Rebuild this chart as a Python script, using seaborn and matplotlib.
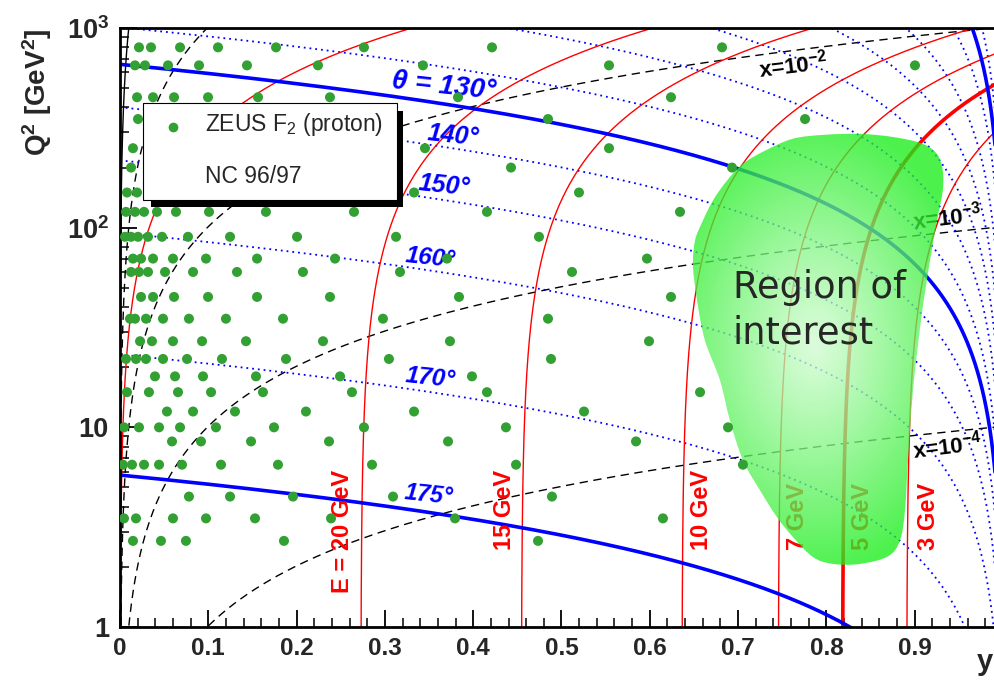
import numpy as np
import pandas as pd
import matplotlib
matplotlib.use("Agg")
import matplotlib.pyplot as plt
from matplotlib.path import Path
from matplotlib.patches import PathPatch, Rectangle
from matplotlib.lines import Line2D
from matplotlib.ticker import LogLocator, MultipleLocator, NullFormatter
import seaborn as sns

# HERA beam energies (GeV)
E_ELECTRON = 27.5
E_PROTON = 920.0
S_CM = 4 * E_ELECTRON * E_PROTON

# ZEUS F2 (proton), NC 96/97: measured y values in each Q^2 bin
y_q2_2p7 = [0.0147, 0.0464, 0.0747, 0.1857, 0.4734]
y_q2_3p5 = [0.0045, 0.0181, 0.0600, 0.0974, 0.1529, 0.2390, 0.3794, 0.6149]
y_q2_4p5 = [0.0781, 0.1246, 0.1959, 0.3092, 0.4892]
y_q2_6p5 = [0.0034, 0.0136, 0.0272, 0.0442, 0.0702, 0.1144, 0.1789, 0.2854, 0.4485, 0.7055]
y_q2_8p5 = [0.0589, 0.0917, 0.1484, 0.2367, 0.3715, 0.5844]
y_q2_10 = [0.0045, 0.0215, 0.0442, 0.0680, 0.1087, 0.1744, 0.2763, 0.4371, 0.6886]
y_q2_12 = [0.0532, 0.0827, 0.1302, 0.2106, 0.3330, 0.5255]
y_q2_15 = [0.0079, 0.0328, 0.0657, 0.1031, 0.1619, 0.2627, 0.4156, 0.6569]
y_q2_18 = [0.0396, 0.0623, 0.0940, 0.1540, 0.2492, 0.3986]
y_q2_22 = [0.0068, 0.0181, 0.0294, 0.0487, 0.0759, 0.1155, 0.1880, 0.3046, 0.4881]
y_q2_27 = [0.0227, 0.0362, 0.0600, 0.0929, 0.1427, 0.2299, 0.3737, 0.5991]
y_q2_35 = [0.0113, 0.0170, 0.0294, 0.0487, 0.0781, 0.1200, 0.1846, 0.2978, 0.4847]
y_q2_45 = [0.0238, 0.0374, 0.0612, 0.0997, 0.1552, 0.2378, 0.3839, 0.6240]
y_q2_60 = [0.0125, 0.0215, 0.0317, 0.0510, 0.0827, 0.1325, 0.2072, 0.3171, 0.5119]
y_q2_70 = [0.0147, 0.0238, 0.0374, 0.0600, 0.0974, 0.1552, 0.2435, 0.3703, 0.5968]
y_q2_90 = [0.0057, 0.0125, 0.0204, 0.0317, 0.0476, 0.0770, 0.1246, 0.2005, 0.3126, 0.4745]
y_q2_120 = [0.0068, 0.0170, 0.0272, 0.0419, 0.0634, 0.1008, 0.1653, 0.2650, 0.4156, 0.6342]
y_q2_150 = [0.0079, 0.0193, 0.3330, 0.5198]
y_q2_200 = [0.0125, 0.4428, 0.6931]
y_q2_250 = [0.0147, 0.3454, 0.5538]
y_q2_350 = [0.0204, 0.4847, 0.7758]
y_q2_450 = [0.0193, 0.0374, 0.0612, 0.0997, 0.1563, 0.2378, 0.3828, 0.6240]
y_q2_650 = [0.0170, 0.0283, 0.0544, 0.0895, 0.1438, 0.2242, 0.3431, 0.5538, 0.9003]
y_q2_800 = [0.0215, 0.0351, 0.0680, 0.1110, 0.1767, 0.2763, 0.4213, 0.6818]

zeus_bins = {
    2.7: y_q2_2p7, 3.5: y_q2_3p5, 4.5: y_q2_4p5, 6.5: y_q2_6p5, 8.5: y_q2_8p5,
    10: y_q2_10, 12: y_q2_12, 15: y_q2_15, 18: y_q2_18, 22: y_q2_22,
    27: y_q2_27, 35: y_q2_35, 45: y_q2_45, 60: y_q2_60, 70: y_q2_70,
    90: y_q2_90, 120: y_q2_120, 150: y_q2_150, 200: y_q2_200, 250: y_q2_250,
    350: y_q2_350, 450: y_q2_450, 650: y_q2_650, 800: y_q2_800,
}

# Kinematic lines: scattered electron energy E' (GeV), polar angle theta (deg), Bjorken x
electron_energies = [27.5, 20, 15, 10, 7, 5, 3]
energy_bold = [5]
energy_labels = ["E = 20 GeV", "15 GeV", "10 GeV", "7 GeV", "5 GeV", "3 GeV"]
theta_dotted = [30, 45, 60, 75, 90, 105, 120, 140, 150, 160, 170]
theta_thick = [36, 130, 175]
theta_labels = ["θ = 130°", "140°", "150°", "160°", "170°", "175°"]
x_lines = [1.0, 1e-1, 1e-2, 1e-3, 1e-4]
x_labels = [r"x=10$^{\mathbf{-2}}$", r"x=10$^{\mathbf{-3}}$", r"x=10$^{\mathbf{-4}}$"]

# Outline of the highlighted region (y, Q^2)
region_y = [0.7055, 0.7305, 0.7622, 0.7984, 0.8381, 0.8743, 0.9060, 0.9230, 0.9309,
            0.9321, 0.9264, 0.9173, 0.9071, 0.8981, 0.8924, 0.8890, 0.8834, 0.8698,
            0.8381, 0.8075, 0.7848, 0.7622, 0.7440, 0.7248, 0.7055, 0.6908, 0.6795,
            0.6625, 0.6535, 0.6489, 0.6512, 0.6591, 0.6716, 0.6874]
region_q2 = [209, 243, 279, 292, 295, 285, 266, 240, 204,
             158, 115, 68.4, 34.3, 15.3, 6.84, 3.85, 2.72, 2.26,
             2.07, 2.07, 2.24, 2.82, 3.55, 4.84, 6.84, 10.8, 17.2,
             27.2, 43.2, 64.6, 86.1, 106, 137, 172]

x_tick_vals = [0, 0.1, 0.2, 0.3, 0.4, 0.5, 0.6, 0.7, 0.8, 0.9]
x_tick_text = ["0", "0.1", "0.2", "0.3", "0.4", "0.5", "0.6", "0.7", "0.8", "0.9"]
y_tick_vals = [1, 10, 100, 1000]
y_tick_text = ["1", "10", r"$\mathbf{10^{2}}$", r"$\mathbf{10^{3}}$"]

sns.set_style("ticks")
plt.rcParams["font.family"] = ["Liberation Sans", "DejaVu Sans"]
plt.rcParams["mathtext.fontset"] = "custom"
plt.rcParams["mathtext.rm"] = "Liberation Sans"
plt.rcParams["mathtext.it"] = "Liberation Sans:italic"
plt.rcParams["mathtext.bf"] = "Liberation Sans:bold"

W, H = 995, 680
fig = plt.figure(figsize=(W / 100, H / 100), dpi=100, facecolor="white")


def fx(px):
    return px / W


def fy(py):
    return 1 - py / H


ax = fig.add_axes([fx(120), fy(627), 883 / W, 599 / H])
ax.set_yscale("log")
ax.set_facecolor("white")

RED, BLUE = "#ff0000", "#0000ff"

# constant-x lines: Q^2 = s x y
y_fine = np.geomspace(1e-7, 1.0, 3000)
for xv in x_lines:
    if xv == 1.0:
        ax.plot(y_fine, S_CM * xv * y_fine, color="black", lw=1.0, zorder=2)
    else:
        ax.plot(y_fine, S_CM * xv * y_fine, color="black", lw=1.0,
                ls=(0, (6, 4)), zorder=2)

# constant-angle lines: Q^2 = 4 Ee^2 cot^2(theta/2) (1 - y)
one_minus_y = np.geomspace(1.0, 1e-7, 4000)
for th in theta_dotted + theta_thick:
    q0 = 4 * E_ELECTRON ** 2 / np.tan(np.radians(th) / 2) ** 2
    if th in theta_thick:
        ax.plot(1 - one_minus_y, q0 * one_minus_y, color=BLUE, lw=2.6, zorder=2.2)
    else:
        ax.plot(1 - one_minus_y, q0 * one_minus_y, color=BLUE, lw=1.3,
                ls=(0, (1, 2.2)), zorder=2)

# constant scattered-energy lines: Q^2 = 4 Ee (E' - Ee (1 - y))
for e in electron_energies:
    q2 = np.geomspace(0.3, 4 * E_ELECTRON * e, 3000)
    yy = 1 - (e - q2 / (4 * E_ELECTRON)) / E_ELECTRON
    ax.plot(yy, q2, color=RED, lw=2.6 if e in energy_bold else 1.0, zorder=2.1)

# energy labels
energy_pos = [(0.2525, 1.48), (0.436, 2.43), (0.6586, 2.43), (0.7678, 2.43),
              (0.8409, 2.43), (0.9151, 2.43)]
for (px_, q_), lab in zip(energy_pos, energy_labels):
    ax.text(px_, q_, lab, rotation=90, color=RED, fontsize=17, fontweight="bold",
            ha="center", va="bottom", zorder=3)

# angle labels
theta_pos = [(0.367, 507, 20), (0.377, 288, 18), (0.367, 162, 18),
             (0.351, 70, 17.5), (0.351, 17.6, 17.5), (0.349, 4.57, 17)]
for (px_, q_, fs), lab in zip(theta_pos, theta_labels):
    ax.text(px_, q_, lab, rotation=-6, color=BLUE, fontsize=fs, fontweight="bold",
            fontstyle="italic", ha="center", va="center", zorder=3)

# x labels
x_pos = [(0.762, 646), (0.9366, 112), (0.9366, 8.04)]
for (px_, q_), lab in zip(x_pos, x_labels):
    ax.text(px_, q_, lab, rotation=7, color="black", fontsize=16, fontweight="bold",
            ha="center", va="center", zorder=3)

# highlighted region: smooth closed outline filled with a radial gradient
pts = np.column_stack([region_y, np.log10(region_q2)])
n = len(pts)
verts = [pts[0]]
codes = [Path.MOVETO]
for i in range(n):
    p0, p1, p2, p3 = pts[i - 1], pts[i], pts[(i + 1) % n], pts[(i + 2) % n]
    verts += [p1 + (p2 - p0) / 6, p2 - (p3 - p1) / 6, p2]
    codes += [Path.CURVE4] * 3
verts = np.array(verts)
verts[:, 1] = 10 ** verts[:, 1]
region_path = Path(verts, codes)
region_patch = PathPatch(region_path, transform=ax.transData, facecolor="none",
                         edgecolor="none", zorder=4)
ax.add_patch(region_patch)

gu, gv = np.meshgrid(np.linspace(0, 1, 500), np.linspace(0, 1, 400))
cu, cv = (815 - 120) / 883, (627 - 345) / 599
rad = np.sqrt(((gu - cu) * 883 / 160) ** 2 + ((gv - cv) * 599 / 230) ** 2)
tt = np.clip(rad, 0, 1) ** 1.1
c_center = np.array([210, 252, 210]) / 255
c_edge = np.array([25, 238, 25]) / 255
rgb = c_center * (1 - tt[..., None]) + c_edge * tt[..., None]
rgba = np.dstack([rgb, np.full(tt.shape, 0.78)])
im = ax.imshow(rgba, extent=(0, 1, 0, 1), origin="lower", transform=ax.transAxes,
               aspect="auto", interpolation="bilinear", zorder=4)
im.set_clip_path(region_patch)

# ZEUS points
rows = [(y, q2) for q2, ys in zeus_bins.items() for y in ys]
df = pd.DataFrame(rows, columns=["y", "Q2"])
sns.scatterplot(data=df, x="y", y="Q2", ax=ax, color="#33a033", s=52,
                edgecolor="none", linewidth=0, zorder=5, legend=False)

ax.text(0.694, 44.2, "Region of", fontsize=26.5, family="DejaVu Sans",
        va="baseline", ha="left", zorder=6)
ax.text(0.694, 26.3, "interest", fontsize=26.5, family="DejaVu Sans",
        va="baseline", ha="left", zorder=6)

# axes
ax.set_xlim(0, 1)
ax.set_ylim(1, 1000)
ax.set_xlabel("")
ax.set_ylabel("")
ax.set_xticks(x_tick_vals, labels=x_tick_text, fontsize=17.5, fontweight="bold")
ax.set_yticks(y_tick_vals, labels=y_tick_text, fontsize=19.5, fontweight="bold")
ax.xaxis.set_minor_locator(MultipleLocator(0.02))
ax.yaxis.set_minor_locator(LogLocator(base=10, subs=np.arange(2, 10)))
ax.yaxis.set_minor_formatter(NullFormatter())
ax.tick_params(axis="both", which="major", direction="in", length=12, width=1.3,
               top=False, right=False, color="black")
ax.tick_params(axis="both", which="minor", direction="in", length=6.5, width=1.1,
               top=False, right=False, color="black")
ax.tick_params(axis="x", pad=7)
ax.tick_params(axis="y", pad=8)
for sp in ax.spines.values():
    sp.set_linewidth(2.0)
    sp.set_color("black")

fig.text(fx(37), fy(92), r"Q$^{\mathbf{2}}$ [GeV$^{\mathbf{2}}$]", rotation=90,
         fontsize=20, fontweight="bold", ha="center", va="center")
fig.text(fx(993), fy(676), "y", fontsize=21, fontweight="bold", ha="right",
         va="bottom")

# legend box with drop shadow
fig.add_artist(Rectangle((fx(151), fy(207)), (403 - 151) / W, (207 - 111) / H,
                         transform=fig.transFigure, facecolor="black",
                         edgecolor="none", zorder=8))
fig.add_artist(Rectangle((fx(143), fy(200)), (397 - 143) / W, (200 - 103) / H,
                         transform=fig.transFigure, facecolor="white",
                         edgecolor="black", lw=0.8, zorder=9))
fig.add_artist(Line2D([fx(173)], [fy(127)], transform=fig.transFigure, marker="o",
                      markersize=7, color="#33a033", markeredgewidth=0, zorder=10))
fig.text(fx(205), fy(131), r"ZEUS F$_{\mathregular{2}}$ (proton)", fontsize=16.5,
         ha="left", va="baseline", zorder=10)
fig.text(fx(205), fy(183), "NC 96/97", fontsize=16.5, ha="left", va="baseline", zorder=10)

fig.savefig("out.png", dpi=100, facecolor="white")
